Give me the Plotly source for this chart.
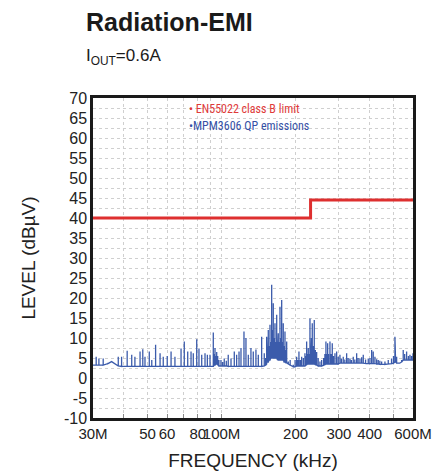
import numpy as np
import plotly.graph_objects as go

# ---- data ----
limit_freq = [30, 230, 600]          # MHz
limit_level = [40, 44.5, 44.5]       # dBuV

spike_freq = [
    30.0, 30.9, 31.7, 33.0, 34.5, 35.7, 37.0, 38.0, 39.2, 41.3, 43.1, 44.4, 46.6, 47.8, 48.8,
    50.8, 52.0, 53.9, 56.2, 57.9, 60.1, 62.3, 64.6, 68.4, 70.5, 72.8, 75.1, 76.7,
    79.2, 80.9, 83.0, 85.6, 87.5, 89.7, 92.5, 93.3, 94.0, 94.8, 95.5, 96.4, 97.5,
    99.4, 101.0, 102.5, 104.5, 106.4, 109.2, 112.6, 115.1, 117.7, 119.9, 123.3,
    125.6, 128.4, 131.6, 134.5, 137.9, 141.0, 145.5,
    149.1, 151.0, 152.5, 153.5, 154.8, 156.0, 157.3, 158.5, 159.8, 161.0, 162.2,
    163.5, 164.8, 166.0, 167.5, 168.8, 170.0, 171.3, 172.7, 174.0, 175.5, 176.8,
    178.1, 179.5, 181.0, 182.5, 183.9, 186.7, 190.0, 195.6, 199.0, 201.9, 204.0,
    206.3, 209.0, 211.6, 215.0, 218.2, 220.0, 221.7, 223.4, 225.1, 227.0, 228.7,
    230.5, 232.0, 233.7, 236.0, 238.1, 240.5, 243.5, 247.0, 251.1, 255.2, 260.0,
    263.0, 265.6, 267.5, 269.9, 272.0, 275.8, 278.5, 281.8, 285.0, 289.0, 293.6,
    298.0, 302.8, 307.0, 312.3, 317.0, 322.4, 327.0, 332.5, 337.0, 343.0, 348.0,
    354.1, 359.0, 365.2, 371.0, 376.7, 385.0, 394.7, 401.0, 407.5, 413.6, 420.2,
    427.0, 433.5, 440.0, 447.5, 461.5, 476.0, 491.0, 500.0, 506.7, 510.0, 514.9,
    522.6, 530.0, 539.5, 547.6, 555.0, 565.3, 575.0, 583.3, 592.0, 600.0,
]
spike_peak = [
    3.2, 5.3, 4.9, 4.9, 3.8, 4.1, 3.6, 5.3, 5.3, 6.8, 5.8, 5.3, 6.6, 7.2, 5.3,
    6.6, 4.5, 8.3, 6.2, 5.3, 5.5, 6.6, 5.3, 7.4, 9.1, 6.6, 6.6, 6.2,
    9.7, 7.4, 5.8, 6.2, 5.8, 5.8, 11.4, 6.0, 7.5, 5.5, 6.5, 5.5, 4.5,
    4.5, 4.0, 4.9, 4.3, 5.8, 4.9, 6.6, 5.8, 6.6, 7.5, 11.6,
    10.0, 5.8, 7.5, 6.6, 7.1, 5.8, 10.3,
    6.2, 5.0, 10.3, 7.0, 12.0, 8.0, 13.3, 9.0, 23.3, 12.0, 18.7,
    10.0, 13.7, 9.0, 15.8, 8.0, 11.2, 9.0, 17.8, 10.0, 19.5, 9.0,
    13.7, 8.0, 11.6, 7.0, 9.1, 4.1, 4.5, 3.3, 4.5, 5.3, 4.5,
    6.6, 4.5, 5.3, 5.0, 6.2, 5.5, 9.1, 6.0, 7.5, 6.0, 14.9,
    8.0, 10.0, 13.7, 8.0, 14.5, 7.0, 6.5, 5.0, 4.1, 4.5, 5.0,
    6.0, 9.1, 6.0, 8.7, 6.0, 9.1, 6.0, 8.7, 5.5, 6.2, 6.6,
    5.3, 5.8, 4.8, 5.3, 4.6, 6.2, 5.0, 4.9, 4.5, 5.3, 4.6,
    6.2, 5.0, 4.9, 5.2, 5.8, 4.6, 4.9, 5.0, 7.0, 6.6, 5.3,
    4.7, 4.5, 4.3, 4.1, 4.1, 4.5, 4.9, 5.5, 10.3, 6.5, 5.3,
    3.7, 3.8, 4.5, 7.0, 6.0, 6.6, 5.5, 5.8, 5.5, 6.2,
]
spike_floor = [
    3.2, 3.2, 3.2, 3.2, 3.6, 4.1, 3.5, 3.0, 2.9, 2.9, 2.9, 2.9, 2.9, 2.9, 2.9,
    2.9, 2.9, 2.9, 2.9, 2.9, 2.9, 2.9, 2.9, 2.9, 2.9, 2.9, 2.9, 2.9,
    2.9, 2.9, 2.9, 2.9, 2.9, 2.9, 2.9, 3.2, 3.2, 3.5, 3.5, 3.3, 3.0,
    3.0, 3.0, 3.0, 3.0, 2.9, 2.9, 2.9, 2.9, 2.9, 2.9, 2.9,
    2.9, 2.9, 2.9, 2.9, 2.9, 2.9, 2.9,
    3.0, 3.2, 3.5, 4.0, 4.0, 4.5, 4.5, 5.0, 5.0, 5.0, 5.0,
    5.0, 5.0, 5.0, 5.0, 4.5, 4.5, 4.5, 4.5, 4.5, 4.5, 4.5,
    4.5, 4.0, 4.0, 3.8, 3.8, 3.5, 3.2, 2.8, 2.8, 3.0, 3.0,
    3.0, 3.0, 3.0, 3.0, 3.0, 3.2, 3.3, 3.5, 3.5, 3.5, 3.5,
    3.5, 3.5, 3.5, 3.5, 3.5, 3.3, 3.2, 3.0, 3.0, 3.0, 3.2,
    3.3, 3.5, 3.5, 3.5, 3.5, 3.5, 3.5, 3.5, 3.5, 3.5, 3.5,
    3.5, 3.7, 3.7, 3.7, 3.7, 3.7, 3.7, 3.7, 3.7, 3.7, 3.7,
    3.7, 3.7, 3.7, 3.7, 3.7, 3.6, 3.6, 3.6, 3.6, 3.6, 3.6,
    3.5, 3.5, 3.4, 3.4, 3.4, 3.5, 3.6, 3.7, 4.0, 4.0, 3.7,
    3.7, 3.7, 4.0, 4.5, 4.5, 4.5, 4.5, 4.5, 4.5, 4.5,
]

y_tick_vals = list(range(-10, 71, 5))
y_tick_text = [str(v) for v in y_tick_vals]
x_tick_vals = [30, 50, 60, 80, 100, 200, 300, 400, 600]
x_tick_text = ["30M", "50", "60", "80", "100M", "200", "300", "400", "600M"]
x_minor_vals = [40, 70, 90, 500]

# ---- build emission trace (vertical spikes joined along the floor) ----
em_x, em_y = [], []
for f, p, fl in zip(spike_freq, spike_peak, spike_floor):
    em_x += [f, f, f]
    em_y += [fl, p, fl]

FONT = "Liberation Sans, Arial, sans-serif"

fig = go.Figure()
fig.add_trace(go.Scatter(x=em_x, y=em_y, mode="lines",
                         line=dict(color="#3b5bab", width=1.3), showlegend=False))
fig.add_trace(go.Scatter(x=limit_freq, y=limit_level, mode="lines", line_shape="hv",
                         line=dict(color="#de2f2f", width=3), showlegend=False))

fig.update_layout(
    width=435, height=466,
    margin=dict(l=85, r=30, t=90, b=56),
    paper_bgcolor="white", plot_bgcolor="white",
    font=dict(family=FONT, color="#222222"),
    showlegend=False,
)
fig.update_xaxes(
    type="log", range=[np.log10(30) - 1e-4, np.log10(600) + 1e-4],
    tickmode="array", tickvals=x_tick_vals, ticktext=x_tick_text, tickangle=0,
    tickfont=dict(size=15, family=FONT, color="#222"),
    ticks="inside", ticklen=4, tickcolor="#888",
    showgrid=True, gridcolor="#cfcfcf", griddash="dot", gridwidth=1,
    minor=dict(tickmode="array", tickvals=x_minor_vals, showgrid=True, gridcolor="#cfcfcf",
               griddash="dot", gridwidth=1, ticks="inside", ticklen=4, tickcolor="#888"),
    showline=True, linecolor="#1a1a1a", linewidth=2.5, mirror=True,
    title=dict(text="FREQUENCY (kHz)", font=dict(size=19, family=FONT, color="#222"), standoff=13),
    zeroline=False, automargin=False,
)
fig.update_yaxes(
    range=[-10, 70], tickmode="array", tickvals=y_tick_vals, ticktext=y_tick_text,
    tickfont=dict(size=16, family=FONT, color="#222"),
    ticks="", showline=True, linecolor="#1a1a1a", linewidth=2.5, mirror=True,
    showgrid=True, gridcolor="#cfcfcf", griddash="dot", gridwidth=1,
    minor=dict(dtick=2.5, tick0=0, showgrid=True, gridcolor="#cfcfcf", griddash="dot", gridwidth=1),
    title=dict(text="LEVEL (dBµV)", font=dict(size=19, family=FONT, color="#222"), standoff=24),
    zeroline=False, automargin=False,
)

fig.add_annotation(xref="paper", yref="paper", x=-0.0275, y=1.0, yanchor="bottom",
                   xanchor="left", yshift=60, showarrow=False,
                   text="<b>Radiation-EMI</b>", font=dict(size=25, family=FONT, color="#1a1a1a"))
fig.add_annotation(xref="paper", yref="paper", x=-0.0275, y=1.0, yanchor="bottom",
                   xanchor="left", yshift=28, showarrow=False,
                   text="I<sub>OUT</sub>=0.6A", font=dict(size=17, family=FONT, color="#1a1a1a"))

LEG_FONT = "Liberation Sans Narrow, Arial Narrow, Roboto Condensed, sans-serif"
fig.add_annotation(xref="paper", yref="paper", x=0.295, y=0.995, xanchor="left", yanchor="top",
                   showarrow=False, text="• EN55022 class B limit",
                   font=dict(size=12, family=LEG_FONT, color="#e03a3a"))
fig.add_annotation(xref="paper", yref="paper", x=0.295, y=0.94, xanchor="left", yanchor="top",
                   showarrow=False, text="•MPM3606 QP emissions",
                   font=dict(size=12, family=LEG_FONT, color="#3550a5"))

fig.write_html("out.html")
